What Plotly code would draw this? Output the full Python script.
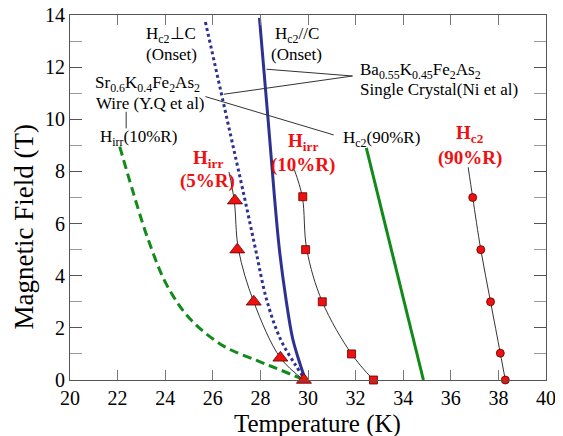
import plotly.graph_objects as go

# ---- data ----
# Hirr (5%R) - red triangles
tri_T = [26.93, 27.03, 27.72, 28.84, 29.83]
tri_H = [6.88, 5.0, 3.0, 0.85, 0.0]
tri_fit_T = [26.68, 26.9, 27.08, 27.72, 28.84, 29.83]
tri_fit_H = [7.98, 6.88, 5.0, 3.0, 0.85, 0.0]

# Hirr (10%R) - red squares
sq_T = [29.78, 29.9, 30.6, 31.83, 32.75]
sq_H = [7.03, 5.0, 3.0, 1.0, 0.0]
sq_fit_T = [29.42, 29.76, 29.95, 30.6, 31.83, 32.75]
sq_fit_H = [8.08, 7.03, 5.0, 3.0, 1.0, 0.0]

# Hc2 (90%R) - red circles
ci_T = [36.92, 37.26, 37.67, 38.08, 38.29]
ci_H = [7.0, 5.0, 3.0, 1.03, 0.0]
ci_fit_T = [36.73, 36.92, 37.26, 37.67, 38.08, 38.29]
ci_fit_H = [8.16, 7.0, 5.0, 3.0, 1.03, 0.0]

# Ba0.55K0.45Fe2As2 single crystal (Ni et al)
perp_T = [25.69, 26.6, 27.33, 27.8, 28.27, 28.86, 29.47, 29.89]
perp_H = [13.73, 10.0, 7.0, 5.0, 3.05, 1.53, 0.58, 0.0]
par_T = [27.96, 28.30, 28.59, 28.80, 29.08, 29.35, 29.64, 29.89]
par_H = [13.89, 10.24, 7.03, 4.99, 3.07, 1.61, 0.69, 0.0]

# Sr0.6K0.4Fe2As2 wire (Y.Q et al)
wire_irr_T = [22.09, 22.62, 23.28, 24.08, 25.06, 26.46, 27.87, 28.8, 29.85]
wire_irr_H = [8.95, 7.3, 5.4, 3.62, 2.33, 1.3, 0.74, 0.4, 0.0]
wire_hc2_T = [32.45, 34.85]
wire_hc2_H = [8.9, 0.0]

x_ticks = [20, 22, 24, 26, 28, 30, 32, 34, 36, 38, 40]
y_ticks = [0, 2, 4, 6, 8, 10, 12, 14]

FONT = "Liberation Serif"
RED = "#f01010"
BLUE = "#2e3192"
GREEN = "#128a1a"

fig = go.Figure()

# wire curves
fig.add_trace(go.Scatter(x=wire_irr_T, y=wire_irr_H, mode="lines",
                         line=dict(color=GREEN, width=3, dash="9px,5px", shape="spline", smoothing=1.0)))
fig.add_trace(go.Scatter(x=wire_hc2_T, y=wire_hc2_H, mode="lines",
                         line=dict(color=GREEN, width=3)))
# crystal curves
fig.add_trace(go.Scatter(x=perp_T, y=perp_H, mode="lines",
                         line=dict(color=BLUE, width=3, dash="dot", shape="spline", smoothing=1.0)))
fig.add_trace(go.Scatter(x=par_T, y=par_H, mode="lines",
                         line=dict(color=BLUE, width=3, shape="spline", smoothing=1.0)))

# thin fit lines
for ft, fh in [(tri_fit_T, tri_fit_H), (sq_fit_T, sq_fit_H), (ci_fit_T, ci_fit_H)]:
    fig.add_trace(go.Scatter(x=ft, y=fh, mode="lines",
                             line=dict(color="#333333", width=1, shape="spline", smoothing=1.0)))

# markers
mline = dict(color="#5a0000", width=0.8)
fig.add_trace(go.Scatter(x=tri_T, y=tri_H, mode="markers", cliponaxis=False,
                         marker=dict(symbol="triangle-up", size=13, color=RED, line=mline)))
fig.add_trace(go.Scatter(x=sq_T, y=sq_H, mode="markers", cliponaxis=False,
                         marker=dict(symbol="square", size=8, color=RED, line=mline)))
fig.add_trace(go.Scatter(x=ci_T, y=ci_H, mode="markers", cliponaxis=False,
                         marker=dict(symbol="circle", size=8, color=RED, line=mline)))

# leader lines
leaders = [
    ((28.26, 11.92), (31.87, 11.66)),
    ((26.46, 10.96), (31.87, 11.66)),
    ((25.69, 10.87), (31.08, 9.40)),
    ((22.36, 10.29), (22.36, 9.65)),
]
shapes = []
for (x0, y0), (x1, y1) in leaders:
    shapes.append(dict(type="line", xref="x", yref="y", x0=x0, y0=y0, x1=x1, y1=y1,
                       line=dict(color="#333333", width=1)))

def txt(x, y, s, anchor="center", size=17, color="black", bold=False):
    if bold:
        s = "<b>" + s + "</b>"
    return dict(x=x, y=y, xref="x", yref="y", text=s, showarrow=False,
                xanchor=anchor, yanchor="middle",
                font=dict(family=FONT, size=size, color=color))

ann = [
    txt(24.26, 13.23, "H<sub>c2</sub>⊥C"),
    txt(24.26, 12.50, "(Onset)"),
    txt(29.52, 13.23, "H<sub>c2</sub>//C"),
    txt(29.52, 12.50, "(Onset)"),
    txt(20.95, 11.36, "Sr<sub>0.6</sub>K<sub>0.4</sub>Fe<sub>2</sub>As<sub>2</sub>", "left"),
    txt(20.99, 10.59, "Wire (Y.Q et al)", "left"),
    txt(21.16, 9.28, "H<sub>irr</sub>(10%R)", "left"),
    txt(32.12, 11.85, "Ba<sub>0.55</sub>K<sub>0.45</sub>Fe<sub>2</sub>As<sub>2</sub>", "left"),
    txt(32.12, 11.14, "Single Crystal(Ni et al)", "left"),
    txt(31.37, 9.26, "H<sub>c2</sub>(90%R)", "left"),
    txt(25.78, 8.48, "H<sub>irr</sub>", size=19, color=RED, bold=True),
    txt(25.76, 7.65, "(5%R)", size=19, color=RED, bold=True),
    txt(29.79, 9.13, "H<sub>irr</sub>", size=19, color=RED, bold=True),
    txt(29.79, 8.25, "(10%R)", size=19, color=RED, bold=True),
    txt(36.81, 9.42, "H<sub>c2</sub>", size=19, color=RED, bold=True),
    txt(36.81, 8.52, "(90%R)", size=19, color=RED, bold=True),
    dict(x=0.519, y=-0.121, xref="paper", yref="paper", text="Temperature (K)",
         showarrow=False, xanchor="center", yanchor="middle",
         font=dict(family=FONT, size=25, color="black")),
    dict(x=-0.0965, y=0.418, xref="paper", yref="paper", text="Magnetic Field (T)",
         showarrow=False, xanchor="center", yanchor="middle", textangle=-90,
         font=dict(family=FONT, size=27, color="black")),
]

# the page body has an 8px default margin, so the figure is sized to fit inside the window
fig.update_layout(
    width=555, height=428,
    margin=dict(l=61.5, r=17, t=7, b=56, autoexpand=False),
    paper_bgcolor="white", plot_bgcolor="white",
    showlegend=False,
    font=dict(family=FONT, size=20, color="black"),
    shapes=shapes, annotations=ann,
)
fig.update_xaxes(range=[20, 40], tickvals=x_ticks, ticktext=[str(v) for v in x_ticks],
                 automargin=False, ticklabeloverflow="allow",
                 ticks="inside", ticklen=10, tickwidth=1, tickcolor="#777777",
                 showline=True, linecolor="#555555", linewidth=1, mirror="allticks",
                 showgrid=False, zeroline=False,
                 tickfont=dict(family=FONT, size=20, color="black"))
fig.update_yaxes(range=[0, 14], tickvals=y_ticks, ticktext=[str(v) for v in y_ticks],
                 automargin=False, ticklabeloverflow="allow",
                 ticks="inside", ticklen=12, tickwidth=1, tickcolor="#555555",
                 minor=dict(dtick=1, ticks="inside", ticklen=12, tickcolor="#999999", showgrid=False),
                 showline=True, linecolor="#555555", linewidth=1, mirror="allticks",
                 showgrid=False, zeroline=False,
                 tickfont=dict(family=FONT, size=20, color="black"))

fig.write_html("out.html")
